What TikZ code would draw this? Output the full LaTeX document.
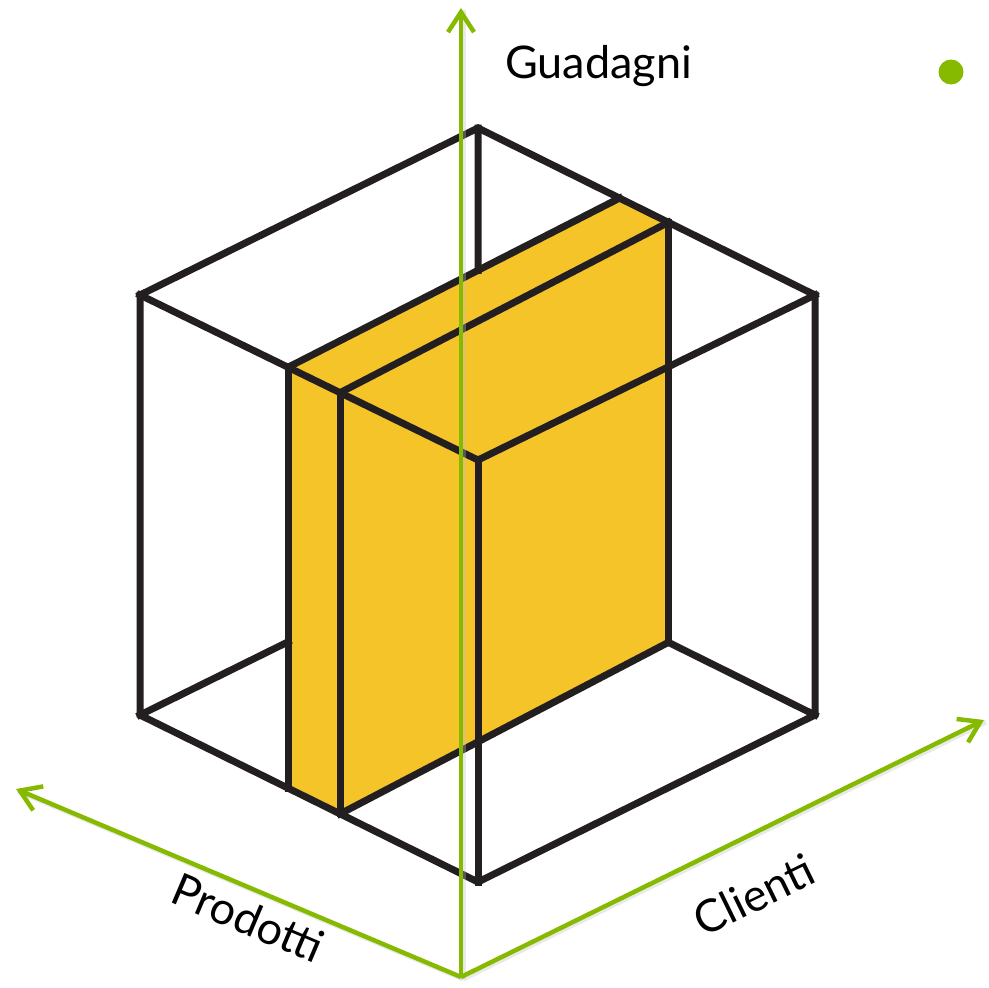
\documentclass[tikz,border=0pt]{standalone}
\usepackage{fontspec}
\setmainfont{Lato}
\usetikzlibrary{arrows.meta,calc}
\definecolor{axisgreen}{RGB}{134,186,0}
\definecolor{slabyellow}{RGB}{244,196,41}
\definecolor{edgeblack}{RGB}{35,31,32}
\tikzset{
  edge/.style={draw=edgeblack, line width=7pt, line join=miter, line cap=rect},
  slab/.style={fill=slabyellow, draw=none},
  axis/.style={draw=axisgreen, line width=4.5pt, -{Straight Barb[length=20pt,width=26pt,line width=4.5pt]}},
  axisshadow/.style={draw=black!25, opacity=0.35, line width=5pt},
  axislabel/.style={font=\fontsize{45}{48}\selectfont, text=black, inner sep=0pt}
}
\begin{document}
\begin{tikzpicture}[x=1pt,y=-1pt]
\useasboundingbox (0,0) rectangle (989,988);

% cube corners
\coordinate (TB) at (478,128);
\coordinate (TL) at (140,295);
\coordinate (TR) at (815,295);
\coordinate (TF) at (478,460);
\coordinate (BL) at (140,715);
\coordinate (BR) at (815,715);
\coordinate (BF) at (478,882);
\coordinate (BB) at (478,548);

% slab corners, taken on the cube edges
\coordinate (SA) at ($(TL)!0.438!(TF)$);
\coordinate (SB) at ($(TL)!0.592!(TF)$);
\coordinate (SD) at ($(TB)!0.42!(TR)$);
\coordinate (SC) at ($(TB)!0.565!(TR)$);
\coordinate (SF) at ($(BL)!0.438!(BF)$);
\coordinate (SE) at ($(BL)!0.592!(BF)$);
\coordinate (SH) at ($(BL)!0.438!(BB)$);
\coordinate (SG) at ($(BB)!0.565!(BR)$);
\coordinate (TBh) at (intersection of TB--BB and SA--SD);

% slab faces
\fill[slab] (SA) -- (SD) -- (SC) -- (SB) -- cycle;
\fill[slab] (SB) -- (SC) -- (SG) -- (SE) -- cycle;
\fill[slab] (SA) -- (SB) -- (SE) -- (SF) -- cycle;

% back edges, visible parts only
\draw[edge] (TB) -- (TBh);
\draw[edge] (BL) -- (SH);
\draw[edge] (SG) -- (BR);

% slab edges
\draw[edge] (SA) -- (SD);
\draw[edge] (SB) -- (SC);
\draw[edge] (SA) -- (SF);
\draw[edge] (SB) -- (SE);
\draw[edge] (SC) -- (SG);
\draw[edge] (SE) -- (SG);

% cube edges
\draw[edge] (TL) -- (TB) -- (TR);
\draw[edge] (TL) -- (TF) -- (TR);
\draw[edge] (TL) -- (BL) -- (BF) -- (BR) -- (TR);
\draw[edge] (TF) -- (BF);

% axes
\coordinate (O) at (461,977);
\coordinate (Vt) at (461,8);
\coordinate (Lt) at (16,789);
\coordinate (Rt) at (984,720);
\draw[axisshadow] ([xshift=2pt,yshift=-2pt]O) -- ([xshift=2pt,yshift=-2pt]Vt);
\draw[axisshadow] ([xshift=2pt,yshift=-2pt]O) -- ([xshift=2pt,yshift=-2pt]Lt);
\draw[axisshadow] ([xshift=2pt,yshift=-2pt]O) -- ([xshift=2pt,yshift=-2pt]Rt);
\draw[axis] (O) -- (Vt);
\draw[axis] (O) -- (Lt);
\draw[axis] (O) -- (Rt);

% labels
\node[axislabel, anchor=base west] (guad) at (505,78) {Guadagni};
\node[axislabel, rotate=-23] (prod) at (248,918) {Prodotti};
\node[axislabel, rotate=26] (cli) at (754,895) {Clienti};

% bullet
\fill[axisgreen] (951,72) circle (12.5);
\end{tikzpicture}
\end{document}
